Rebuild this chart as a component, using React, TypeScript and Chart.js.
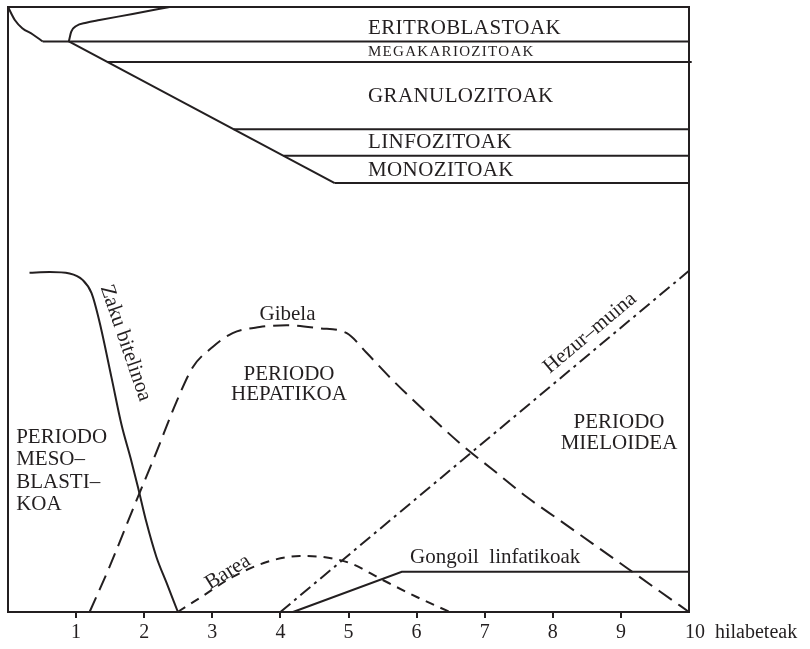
import React, { useEffect, useRef } from 'react';
import { Chart, registerables } from 'chart.js';

Chart.register(...registerables);

const INK = '#231f20';
const FONT = '"Liberation Serif", "Times New Roman", Times, serif';

// ---- x: months (0–10), y: relative level (0–100) ----
const monthTicks = [1, 2, 3, 4, 5, 6, 7, 8, 9];
const axisUnit = 'hilabeteak';

// top panel: cell lines
const cornerCurveX = [0, 0.1, 0.21, 0.36, 0.51];
const cornerCurveY = [100, 97.85, 96.5, 95.5, 94.3];

const eritroCurveX = [0.893, 0.929, 1.002, 1.149, 1.345, 1.83, 2.373];
const eritroCurveY = [94.3, 95.92, 96.86, 97.41, 97.85, 98.84, 100];

const diagonalX = [0.893, 4.798];
const diagonalY = [94.3, 70.9];

const bandLevels = [94.3, 90.9, 79.8, 75.4, 70.9];
const bandStarts = [0.51, 1.46, 3.313, 4.047, 4.798];
const bandEnds = [10, 10.04, 10, 10, 10];

const bandNames = ['ERITROBLASTOAK', 'MEGAKARIOZITOAK', 'GRANULOZITOAK', 'LINFOZITOAK', 'MONOZITOAK'];
const bandLabelY = [96.5, 92.5, 85.2, 77.6, 73.0];
const bandLabelX = 5.286;

// bottom panel: haematopoietic organs
const zakuX = [0.316, 0.61, 0.904, 1.095, 1.227, 1.345, 1.521, 1.668, 1.801, 1.907, 2.031, 2.178, 2.329, 2.495];
const zakuY = [56.08, 56.2, 55.95, 54.9, 52.7, 47.9, 38.7, 30.9, 25.4, 20.7, 14.9, 9.14, 4.8, 0];

const gibelaX = [1.198, 1.492, 1.83, 2.178, 2.472, 2.716, 3.005, 3.299, 3.696, 4.092, 4.577, 4.974, 5.269, 5.65, 6.15, 6.635, 7.12, 7.619, 8.104, 8.589, 9.089, 9.574, 10];
const gibelaY = [0, 7.5, 16.9, 26.4, 34.7, 40.5, 43.8, 46.1, 47.1, 47.4, 46.9, 46.1, 42.8, 38.3, 32.9, 27.9, 23.5, 19.0, 15.14, 11.27, 7.27, 3.39, 0];

const bareaX = [2.491, 2.814, 3.299, 3.799, 4.284, 4.622, 5.018, 5.503, 6.003, 6.488];
const bareaY = [0, 2.31, 5.79, 8.26, 9.26, 9.09, 8.1, 5.29, 2.48, 0];

const hezurX = [4, 10];
const hezurY = [0, 56.4];

const gongoilX = [4.185, 5.783, 10];
const gongoilY = [0, 6.66, 6.66];

// annotations (text, anchor in data units)
const notes = [
  { lines: ['PERIODO', 'MESO–', 'BLASTI–', 'KOA'], x: 0.12, y: 28.9, align: 'left', rot: 0, lh: 22.5 },
  { lines: ['PERIODO', 'HEPATIKOA'], x: 4.126, y: 39.26, align: 'center', rot: 0, lh: 20 },
  { lines: ['PERIODO', 'MIELOIDEA'], x: 8.972, y: 31.3, align: 'center', rot: 0, lh: 21 },
  { lines: ['Gibela'], x: 4.104, y: 49.2, align: 'center', rot: 0, lh: 21 },
  { lines: ['Zaku bitelinoa'], x: 1.725, y: 44.46, align: 'center', rot: 71, lh: 21 },
  { lines: ['Barea'], x: 3.23, y: 6.6, align: 'center', rot: -32, lh: 21 },
  { lines: ['Hezur–muina'], x: 8.546, y: 46.1, align: 'center', rot: -40, lh: 21 },
  { lines: ['Gongoil  linfatikoak'], x: 5.903, y: 9.0, align: 'left', rot: 0, lh: 21 },
];

const pts = (xs: number[], ys: number[]) => xs.map((x, i) => ({ x, y: ys[i] }));

const solid = (data: any[], curved = false) => ({
  data,
  borderColor: INK,
  borderWidth: 2,
  pointRadius: 0,
  fill: false,
  clip: false as any,
  tension: 0,
  cubicInterpolationMode: curved ? ('monotone' as const) : ('default' as const),
});

const framePlugin = {
  id: 'frameAndText',
  afterDatasetsDraw(chart: any) {
    const { ctx, chartArea, scales } = chart;
    const xs = scales.x;
    const ys = scales.y;
    ctx.save();
    ctx.strokeStyle = INK;
    ctx.lineWidth = 2;
    ctx.strokeRect(chartArea.left, chartArea.top, chartArea.right - chartArea.left, chartArea.bottom - chartArea.top);

    ctx.fillStyle = INK;
    ctx.textBaseline = 'middle';

    // band labels
    bandNames.forEach((name, i) => {
      const isSmall = name === 'MEGAKARIOZITOAK';
      ctx.font = `${isSmall ? 15 : 21}px ${FONT}`;
      (ctx as any).letterSpacing = isSmall ? '1.3px' : '0.4px';
      ctx.textAlign = 'left';
      ctx.fillText(name, xs.getPixelForValue(bandLabelX), ys.getPixelForValue(bandLabelY[i]));
    });
    (ctx as any).letterSpacing = '0px';

    // annotations
    notes.forEach((n) => {
      ctx.save();
      ctx.translate(xs.getPixelForValue(n.x), ys.getPixelForValue(n.y));
      ctx.rotate((n.rot * Math.PI) / 180);
      ctx.font = `21px ${FONT}`;
      ctx.textAlign = n.align as CanvasTextAlign;
      n.lines.forEach((line, k) => ctx.fillText(line, 0, k * n.lh));
      ctx.restore();
    });

    // last tick + unit
    ctx.font = `20px ${FONT}`;
    ctx.textAlign = 'left';
    ctx.fillText('10  ' + axisUnit, xs.getPixelForValue(10) - 4, chartArea.bottom + 21);
    ctx.restore();
  },
};

export default function App() {
  const ref = useRef<HTMLCanvasElement>(null);
  useEffect(() => {
    const datasets: any[] = [
      solid(pts(cornerCurveX, cornerCurveY), true),
      solid(pts(eritroCurveX, eritroCurveY), true),
      solid(pts(diagonalX, diagonalY)),
      ...bandLevels.map((lv, i) => solid(pts([bandStarts[i], bandEnds[i]], [lv, lv]))),
      solid(pts(zakuX, zakuY), true),
      { ...solid(pts(gibelaX, gibelaY), true), borderDash: [16, 8] },
      { ...solid(pts(bareaX, bareaY), true), borderDash: [9, 7] },
      { ...solid(pts(hezurX, hezurY)), borderDash: [13, 5, 3, 5] },
      solid(pts(gongoilX, gongoilY)),
    ];
    const chart = new Chart(ref.current as HTMLCanvasElement, {
      type: 'line',
      data: { datasets },
      plugins: [framePlugin],
      options: {
        animation: false,
        responsive: false,
        devicePixelRatio: 1,
        events: [],
        layout: { padding: { left: 8, top: 7, right: 121, bottom: 0 } },
        plugins: { legend: { display: false }, tooltip: { enabled: false } },
        scales: {
          x: {
            type: 'linear',
            min: 0,
            max: 10,
            afterFit: (s: any) => {
              s.height = 37;
            },
            border: { display: false },
            grid: {
              drawOnChartArea: false,
              drawTicks: true,
              tickLength: 6,
              lineWidth: 2,
              color: (c: any) => (c.tick && monthTicks.includes(c.tick.value) ? INK : 'rgba(0,0,0,0)'),
            },
            ticks: {
              stepSize: 1,
              autoSkip: false,
              maxRotation: 0,
              padding: 3,
              color: INK,
              font: { family: FONT, size: 20 },
              callback: (v: any) => (monthTicks.includes(Number(v)) ? String(v) : ''),
            },
          },
          y: { type: 'linear', min: 0, max: 100, display: false },
        },
      } as any,
    });
    return () => chart.destroy();
  }, []);
  return (
    <div style={{ position: 'absolute', left: 0, top: 0, width: 810, height: 649, background: '#fff' }}>
      <canvas ref={ref} width={810} height={649} style={{ display: 'block', width: 810, height: 649 }} />
    </div>
  );
}
